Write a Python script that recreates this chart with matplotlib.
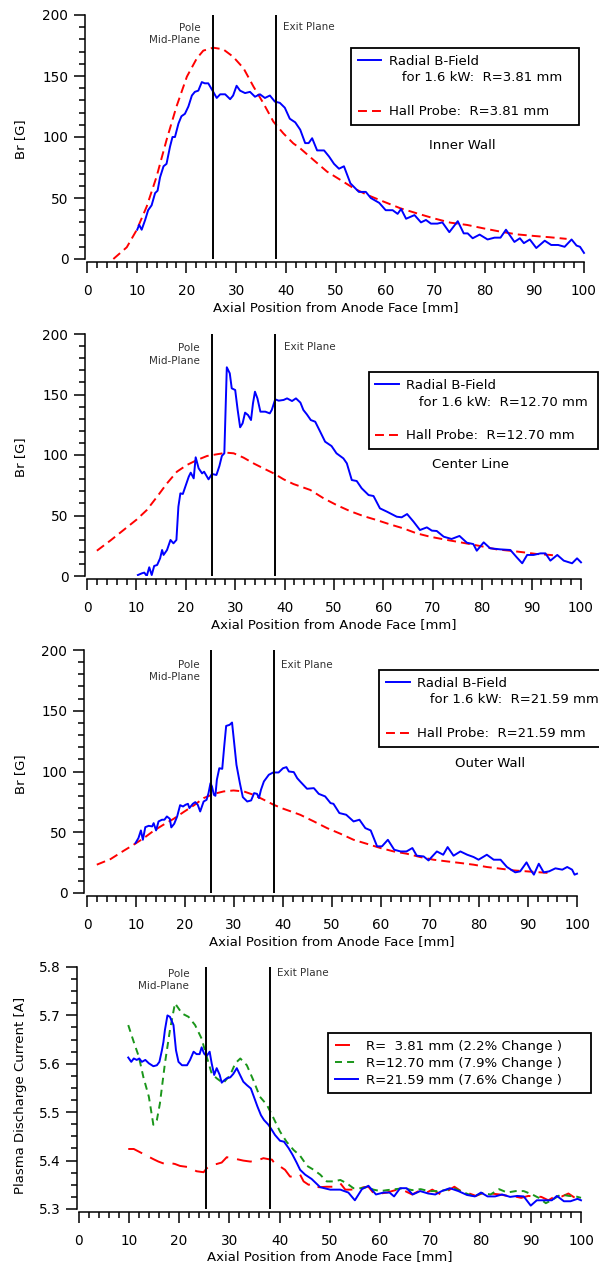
import matplotlib
matplotlib.use("Agg")
import matplotlib.pyplot as plt
from matplotlib.lines import Line2D
from matplotlib.ticker import MultipleLocator

plt.rcParams['font.family'] = ['DejaVu Sans']

# ---------------- data ----------------
pole_plane = 25.4
exit_plane = 38.1

p1_field_x = [10.1, 10.5, 11.0, 11.7, 12.3, 13.0, 13.7, 14.2, 14.7, 15.4, 16.0, 16.7, 17.2, 17.7, 18.4, 19.0,
              19.7, 20.4, 21.1, 21.7, 22.4, 23.1, 23.7, 24.4, 25.4, 26.1, 26.8, 27.8, 28.8, 29.4, 30.1, 30.8,
              31.8, 32.8, 33.8, 34.8, 35.8, 36.8, 37.8, 38.8, 39.8, 40.8, 41.9, 42.9, 43.9, 44.6, 45.3, 46.3,
              47.7, 48.7, 49.7, 50.7, 51.7, 53.0, 54.7, 56.1, 57.1, 58.8, 60.1, 61.5, 62.5, 63.2, 64.2, 65.9,
              67.2, 68.2, 69.2, 70.5, 71.5, 72.9, 74.6, 75.8, 76.6, 77.6, 79.0, 80.6, 82.0, 83.2, 84.3, 86.0,
              87.1, 87.9, 89.1, 90.4, 92.1, 93.4, 94.8, 96.1, 97.5, 98.5, 99.2, 100.0]
p1_field_y = [24, 28, 24, 32, 40, 44, 54, 56, 67, 76, 78, 92, 100, 100, 111, 117,
              119, 125, 134, 137, 138, 145, 144, 144, 137, 132, 135, 135, 131, 134, 142, 138,
              136, 137, 133, 135, 132, 134, 129, 128, 124, 115, 112, 106, 95, 95, 99, 89,
              89, 84, 78, 74, 76, 62, 55, 55, 50, 46, 40, 40, 37, 41, 33, 36,
              30, 32, 29, 29, 30, 22, 31, 21, 21, 17, 20, 16, 17.5, 17.5, 24, 14,
              17, 13, 16, 9, 15, 11.5, 11.5, 10, 16, 11, 10, 5]
p1_hall_x = [5.3, 8.0, 10.0, 12.0, 14.0, 16.0, 18.0, 20.1, 22.1, 23.4, 25.4, 27.4, 29.4, 31.5, 33.5, 35.5,
             37.5, 39.5, 41.5, 42.9, 45.6, 48.3, 51.0, 53.7, 56.4, 59.7, 63.1, 66.4, 69.8, 73.1, 76.5, 79.8,
             83.2, 86.5, 89.9, 93.2, 96.5]
p1_hall_y = [0, 9.6, 23.8, 42.9, 67.5, 97.5, 124.9, 149.5, 164.5, 170.8, 173.2, 171.9, 165.8, 156.3, 141.3, 127.6,
             112.6, 103, 94.8, 90.7, 81.1, 71.6, 64.8, 57.9, 52.5, 47, 41.5, 37.4, 33.3, 29.8, 27.9, 25.1,
             22.4, 20.2, 18.9, 17.8, 16.5]

p2_field_x = [10.3, 11.1, 11.6, 12.1, 12.6, 13.1, 13.6, 14.2, 14.8, 15.2,
              15.5, 16.2, 16.9, 17.5, 18.1, 18.5, 18.9, 19.4, 19.9, 20.6,
              21.0, 21.6, 22.0, 22.6, 23.3, 23.7, 24.6, 25.3, 26.2, 26.8,
              27.3, 27.8, 28.3, 28.9, 29.3, 30.0, 30.5, 31.0, 31.5, 32.0,
              32.6, 33.2, 33.6, 34.0, 34.5, 35.1, 36.1, 37.0, 37.4, 38.1,
              38.8, 39.8, 40.5, 41.5, 42.3, 43.2, 43.8, 44.5, 45.3, 46.2,
              47.2, 48.2, 49.5, 50.5, 51.9, 52.6, 53.6, 54.6, 55.6, 57.0,
              58.0, 59.3, 60.7, 62.7, 63.7, 64.8, 66.1, 67.4, 68.8, 69.8,
              70.8, 72.2, 73.8, 75.4, 76.9, 78.2, 78.9, 80.3, 81.6, 83.7,
              85.7, 87.0, 88.1, 89.1, 90.4, 91.8, 92.8, 93.8, 95.2, 96.5,
              98.2, 99.2, 100.0]
p2_field_y = [0.8, 2.2, 2.8, 0, 7.2, 0.8, 8.3, 9.1, 14.6, 21.5,
              17.4, 21.5, 29.8, 27, 29.8, 57.3, 68.3, 67.8, 73.8, 82.1,
              85.4, 80.7, 98.1, 89, 84.8, 86.2, 79.9, 84.3, 83.5, 90.9,
              99.2, 101.4, 172.5, 167.5, 155.1, 153.7, 137.2, 122.9, 126.2, 135,
              133, 128.9, 142.7, 152.3, 146.8, 135.8, 135.8, 134.4, 137.2, 146,
              144.9, 145.5, 146.8, 144.6, 146.8, 143.3, 137.2, 133.6, 128.9, 127.5,
              119.3, 111, 107.4, 101.4, 97.2, 93.1, 79.3, 78.5, 72.5, 66.9,
              66.1, 55.9, 53.2, 49, 48.5, 51.2, 44.9, 38, 40.2, 37.5,
              37.2, 32.5, 30.6, 33.1, 27.5, 26.4, 20.9, 27.8, 22.9, 22,
              21.5, 15.4, 10.5, 17.4, 17.4, 18.7, 18.7, 12.7, 17.4, 12.7,
              10.5, 14.6, 11.3]
p2_hall_x = [2.0, 4.7, 7.4, 10.1, 12.1, 14.2, 16.2, 18.2, 20.2, 22.3, 24.3, 26.3, 28.3, 29.7, 31.7, 33.7,
             35.7, 37.8, 39.8, 41.8, 43.2, 45.2, 47.9, 50.5, 53.2, 55.9, 58.6, 61.3, 64.0, 66.7, 69.4, 72.2,
             74.8, 77.5, 80.3, 82.9, 85.6, 88.3, 91.0, 93.8, 95.5]
p2_hall_y = [20.9, 29.2, 38, 46.8, 54.5, 65.6, 76.6, 86.2, 91.7, 95.9, 99.2, 100.6, 101.9, 101.4, 97.8, 93.1,
             89, 84.8, 79.9, 76, 74, 71.1, 64.2, 58.7, 53.7, 49.6, 46.3, 42.7, 39.4, 35.3, 32.5, 30.3,
             28.4, 26.4, 24.2, 22, 20.9, 19.6, 18.2, 17.4, 16.5]

p3_field_x = [9.9, 10.5, 11.0, 11.4, 11.9, 12.6, 13.3, 13.6, 14.1, 14.6,
              15.3, 15.8, 16.3, 16.9, 17.2, 17.8, 18.4, 19.0, 19.6, 20.1,
              20.6, 20.9, 21.6, 22.1, 22.6, 23.1, 23.8, 24.4, 24.8, 25.2,
              25.5, 25.9, 26.2, 26.5, 27.0, 27.6, 28.0, 28.4, 29.1, 29.6,
              29.9, 30.5, 31.2, 31.8, 32.7, 33.5, 34.1, 34.7, 35.1, 35.5,
              36.1, 37.1, 38.0, 39.1, 40.0, 40.7, 41.2, 42.2, 42.9, 43.5,
              44.9, 46.3, 47.3, 48.6, 49.7, 50.3, 51.5, 52.9, 54.4, 55.6,
              56.8, 57.9, 59.2, 60.2, 61.4, 62.7, 64.0, 65.2, 66.4, 67.3,
              68.7, 69.7, 71.4, 72.7, 73.6, 74.8, 76.2, 77.6, 78.9, 79.9,
              81.6, 83.0, 84.4, 85.7, 87.4, 88.4, 89.7, 90.5, 91.2, 92.2,
              93.2, 94.3, 95.6, 97.0, 98.0, 99.0, 99.5, 100.0]
p3_field_y = [41.1, 45.2, 51.5, 43.8, 54.2, 55.3, 54.8, 57.5, 51.5, 58.9,
              60.3, 60.3, 63, 61.1, 54, 57, 63, 72.3, 71.2, 72.6,
              73.4, 69.9, 73.4, 74.8, 72.6, 67.1, 75.3, 76.7, 82.2, 90.4,
              87.7, 80.8, 80, 93.2, 102.7, 102.2, 120.5, 137.5, 138.4, 140.3,
              128.8, 105.5, 90.4, 78.9, 75.3, 76.2, 82.2, 81.6, 78.1, 84.9,
              91.8, 97.3, 99.2, 99.2, 102.7, 103.6, 100, 99.5, 94.5, 91.8,
              85.8, 86.3, 81.6, 79.5, 74, 73.4, 65.8, 64.4, 58.9, 60.3,
              53.4, 51.5, 38.4, 38.4, 43.8, 35.6, 34.2, 34.2, 37, 30.7,
              30.1, 26.8, 34.2, 31.5, 37.8, 30.7, 34.2, 31.5, 29.6, 27.4,
              31.5, 27.4, 27.4, 21.4, 17, 17.8, 25.2, 19.2, 15.1, 24.1,
              17, 17.8, 20.3, 19.2, 21.4, 19.2, 15.1, 15.9]
p3_hall_x = [2.0, 4.8, 7.5, 9.5, 11.6, 13.6, 15.6, 17.7, 19.7, 21.8, 23.8, 25.9, 27.9, 29.9, 32.0, 34.0,
             36.1, 38.1, 40.1, 42.2, 43.5, 46.3, 49.0, 51.7, 54.4, 57.1, 59.9, 62.6, 65.3, 68.0, 70.7, 73.5,
             76.2, 78.9, 81.6, 84.4, 87.1, 89.8, 92.5, 94.5]
p3_hall_y = [23.3, 27.9, 34.8, 39.7, 45.2, 51.2, 56.2, 61.1, 66.6, 72.1, 78.1, 81.6, 83.6, 84.4, 83.6, 80.8,
             76.7, 72.6, 69.3, 66.3, 64.4, 58.9, 53.4, 48.8, 43.8, 40.5, 37, 34.2, 32.3, 29.6, 27.4, 26,
             24.7, 23.3, 21.4, 20, 18.6, 17.8, 17, 16.4]

p4_r381_x = [9.9, 11.0, 12.3, 13.6, 14.9, 15.9, 17.2, 18.2, 19.2, 20.2,
             21.6, 22.5, 23.5, 24.9, 25.5, 26.5, 27.5, 28.5, 29.5, 30.5,
             31.5, 32.8, 34.2, 35.5, 36.8, 37.8, 38.5, 39.1, 40.1, 41.1,
             42.1, 43.4, 44.1, 44.8, 45.8, 46.8, 47.8, 49.4, 50.8, 52.1,
             53.1, 54.1, 55.4, 56.8, 57.7, 58.7, 60.1, 61.4, 63.4, 65.0,
             66.4, 67.7, 69.1, 70.4, 72.1, 73.4, 74.8, 76.1, 77.5, 79.1,
             80.5, 82.1, 83.8, 85.5, 86.8, 88.1, 89.5, 90.8, 92.1, 93.5,
             94.8, 96.2, 97.5, 98.8, 100.0]
p4_r381_y = [5.424, 5.424, 5.417, 5.410, 5.403, 5.398, 5.393, 5.395, 5.393, 5.389,
             5.387, 5.383, 5.378, 5.376, 5.384, 5.391, 5.393, 5.396, 5.407, 5.405,
             5.403, 5.400, 5.398, 5.400, 5.405, 5.403, 5.402, 5.393, 5.388, 5.381,
             5.367, 5.367, 5.371, 5.357, 5.350, 5.353, 5.345, 5.346, 5.346, 5.353,
             5.340, 5.340, 5.341, 5.345, 5.346, 5.333, 5.332, 5.334, 5.340, 5.337,
             5.330, 5.337, 5.333, 5.340, 5.330, 5.337, 5.346, 5.337, 5.333, 5.327,
             5.333, 5.332, 5.330, 5.327, 5.326, 5.323, 5.327, 5.326, 5.325, 5.318,
             5.326, 5.326, 5.332, 5.323, 5.330]
p4_r1270_x = [9.9, 11.0, 12.0, 12.9, 14.0, 14.9, 15.6, 16.2, 17.2, 18.2,
              19.2, 20.6, 21.9, 23.2, 24.5, 25.5, 26.5, 27.5, 28.8, 30.2,
              31.2, 32.2, 33.5, 34.8, 36.1, 37.5, 38.8, 40.1, 41.4, 42.8,
              44.1, 45.5, 46.8, 48.1, 49.4, 50.8, 52.1, 53.4, 54.7, 56.1,
              57.4, 58.7, 60.1, 61.4, 63.1, 64.7, 66.4, 68.1, 69.7, 71.4,
              73.0, 74.7, 76.7, 78.7, 80.3, 82.0, 83.7, 85.3, 87.0, 88.6,
              90.3, 91.6, 93.0, 94.3, 96.0, 97.6, 99.0, 100.0]
p4_r1270_y = [5.680, 5.645, 5.615, 5.573, 5.532, 5.474, 5.484, 5.518, 5.601, 5.670,
              5.725, 5.704, 5.697, 5.680, 5.652, 5.615, 5.580, 5.570, 5.560, 5.577,
              5.601, 5.611, 5.597, 5.566, 5.532, 5.515, 5.488, 5.460, 5.439, 5.422,
              5.410, 5.389, 5.381, 5.371, 5.357, 5.357, 5.360, 5.353, 5.343, 5.343,
              5.345, 5.340, 5.337, 5.339, 5.341, 5.343, 5.339, 5.341, 5.337, 5.337,
              5.339, 5.343, 5.334, 5.326, 5.333, 5.330, 5.341, 5.334, 5.337, 5.337,
              5.330, 5.323, 5.312, 5.319, 5.330, 5.327, 5.326, 5.323]
p4_r2159_x = [9.9, 10.5, 11.0, 11.6, 12.1, 12.6, 13.3, 14.0, 14.9, 15.6,
              16.1, 16.6, 16.9, 17.2, 17.7, 18.2, 18.9, 19.4, 19.9, 20.6,
              21.6, 22.2, 22.9, 23.5, 24.1, 24.5, 25.0, 25.5, 26.1, 26.5,
              27.0, 27.5, 28.1, 28.5, 29.0, 29.5, 30.2, 30.8, 31.5, 32.0,
              32.8, 33.5, 34.3, 34.9, 35.6, 36.3, 36.9, 37.8, 38.5, 39.1,
              40.1, 40.9, 41.8, 42.6, 43.4, 44.1, 45.1, 46.4, 48.1, 50.1,
              52.1, 53.7, 55.0, 56.4, 57.7, 59.2, 60.7, 61.9, 62.8, 64.0,
              65.3, 66.5, 68.0, 69.6, 71.0, 72.3, 73.9, 75.6, 77.3, 78.9,
              80.1, 81.4, 82.9, 84.3, 85.9, 87.3, 88.6, 90.0, 91.2, 92.9,
              94.2, 95.2, 96.6, 97.9, 99.3, 100.0]
p4_r2159_y = [5.613, 5.604, 5.611, 5.608, 5.611, 5.604, 5.608, 5.601, 5.595, 5.597,
              5.604, 5.628, 5.645, 5.670, 5.700, 5.697, 5.680, 5.628, 5.604, 5.597,
              5.597, 5.608, 5.625, 5.620, 5.620, 5.634, 5.621, 5.616, 5.625, 5.601,
              5.577, 5.591, 5.577, 5.561, 5.566, 5.570, 5.572, 5.579, 5.591, 5.580,
              5.563, 5.556, 5.549, 5.532, 5.512, 5.494, 5.484, 5.474, 5.463, 5.453,
              5.441, 5.439, 5.426, 5.412, 5.396, 5.381, 5.371, 5.362, 5.345, 5.340,
              5.340, 5.334, 5.318, 5.341, 5.348, 5.330, 5.334, 5.334, 5.326, 5.343,
              5.343, 5.330, 5.337, 5.332, 5.330, 5.337, 5.343, 5.337, 5.329, 5.326,
              5.334, 5.326, 5.326, 5.330, 5.325, 5.327, 5.326, 5.307, 5.318, 5.318,
              5.318, 5.327, 5.316, 5.316, 5.321, 5.318]

radii = ["3.81", "12.70", "21.59"]
wall_names = ["Inner Wall", "Center Line", "Outer Wall"]
p4_labels = ["R=  3.81 mm (2.2% Change )", "R=12.70 mm (7.9% Change )", "R=21.59 mm (7.6% Change )"]

# ---------------- style / layout ----------------
W, H = 599, 1264
BLUE = '#0000ff'
RED = '#ff0000'
GREEN = '#1a961a'
FS = 9.5
LW = 1.4

fig = plt.figure(figsize=(W / 100, H / 100), dpi=100)


def make_axes(spine_px, x0_px, x100_px, top_px, bottom_px):
    s = (x100_px - x0_px) / 100.0
    xl = (spine_px - x0_px) / s
    xr = 100.4
    right_px = x100_px + 0.4 * s
    ax = fig.add_axes([spine_px / W, 1 - bottom_px / H, (right_px - spine_px) / W, (bottom_px - top_px) / H])
    ax.set_xlim(xl, xr)
    for side in ('top', 'right'):
        ax.spines[side].set_visible(False)
    ax.spines['bottom'].set_position(('outward', 2.2))
    ax.spines['bottom'].set_bounds(0, 100)
    ax.spines['left'].set_linewidth(1.1)
    ax.spines['bottom'].set_linewidth(1.1)
    ax.xaxis.set_major_locator(MultipleLocator(10))
    ax.xaxis.set_minor_locator(MultipleLocator(2))
    ax.tick_params(axis='both', which='major', direction='out', length=8, width=1.1, labelsize=9.8)
    ax.tick_params(axis='both', which='minor', direction='out', length=4.2, width=1.1)
    ax.tick_params(axis='x', which='major', pad=7.5)
    ax.tick_params(axis='y', which='major', pad=4)
    ax.set_xlabel("Axial Position from Anode Face [mm]", fontsize=FS, labelpad=2.5)
    ax.patch.set_alpha(0)
    return ax


def plane_lines(ax, pole_off, exit_off):
    ax.axvline(pole_plane, color='black', lw=LW)
    ax.axvline(exit_plane, color='black', lw=LW)
    ax.annotate("Pole\nMid-Plane", xy=(pole_plane, 1.0), xycoords=('data', 'axes fraction'),
                xytext=pole_off, textcoords='offset points', ha='right', va='center',
                multialignment='right', fontsize=7.5, color='#333333', linespacing=1.35)
    ax.annotate("Exit Plane", xy=(exit_plane, 1.0), xycoords=('data', 'axes fraction'),
                xytext=exit_off, textcoords='offset points', ha='left', va='center',
                fontsize=7.5, color='#333333')


def boxed_legend(ax, handles, labels, box):
    leg = ax.legend(handles, labels, loc='upper left', bbox_to_anchor=box, mode='expand',
                    borderaxespad=0, fontsize=FS, handlelength=1.8, handletextpad=0.55,
                    borderpad=0.5, labelspacing=0.3, fancybox=False, framealpha=1,
                    edgecolor='black')
    leg.get_frame().set_linewidth(1.3)
    leg.set_clip_on(False)
    return leg


field_x = [p1_field_x, p2_field_x, p3_field_x]
field_y = [p1_field_y, p2_field_y, p3_field_y]
hall_x = [p1_hall_x, p2_hall_x, p3_hall_x]
hall_y = [p1_hall_y, p2_hall_y, p3_hall_y]

panel_geom = [(85, 87, 584, 15, 259), (85, 87, 581, 334, 576), (84, 87, 577, 650, 893)]
pole_offs = [(-9.4, -13.7), (-9.2, -14.8), (-8.6, -15.1)]
exit_offs = [(5, -8.6), (6.5, -9.4), (5, -10.8)]
leg_boxes = [(0.531, 0.865, 0.455, 0.0), (0.570, 0.843, 0.46, 0.0), (0.597, 0.918, 0.47, 0.0)]
wall_pos = [(0.754, 0.467), (0.775, 0.459), (0.82, 0.531)]

for i in range(3):
    ax = make_axes(*panel_geom[i])
    ax.set_ylim(0, 200)
    ax.yaxis.set_major_locator(MultipleLocator(50))
    ax.yaxis.set_minor_locator(MultipleLocator(10))
    ax.plot(hall_x[i], hall_y[i], color=RED, lw=LW, dashes=(4.6, 2.6), clip_on=False)
    ax.plot(field_x[i], field_y[i], color=BLUE, lw=LW)
    plane_lines(ax, pole_offs[i], exit_offs[i])
    ax.set_ylabel("Br [G]", fontsize=FS)
    ax.yaxis.set_label_coords(-0.116, 0.49)
    handles = [Line2D([], [], color=BLUE, lw=LW),
               Line2D([], [], color='none'),
               Line2D([], [], color='none'),
               Line2D([], [], color=RED, lw=LW, dashes=(4.6, 2.6))]
    labels = ["Radial B-Field",
              "   for 1.6 kW:  R=%s mm" % radii[i],
              " ",
              "Hall Probe:  R=%s mm" % radii[i]]
    boxed_legend(ax, handles, labels, leg_boxes[i])
    ax.text(wall_pos[i][0], wall_pos[i][1], wall_names[i], transform=ax.transAxes,
            ha='center', va='center', fontsize=FS)

# ---------------- panel 4 ----------------
ax4 = make_axes(77, 78.5, 581, 967, 1209)
ax4.set_ylim(5.3, 5.8)
ax4.yaxis.set_major_locator(MultipleLocator(0.1))
ax4.yaxis.set_minor_locator(MultipleLocator(0.025))
l1, = ax4.plot(p4_r381_x, p4_r381_y, color=RED, lw=LW, dashes=(7.7, 4.6))
l2, = ax4.plot(p4_r1270_x, p4_r1270_y, color=GREEN, lw=LW, dashes=(3.6, 2.6))
l3, = ax4.plot(p4_r2159_x, p4_r2159_y, color=BLUE, lw=LW)
plane_lines(ax4, (-12.2, -9.4), (5, -4.3))
ax4.set_ylabel("Plasma Discharge Current [A]", fontsize=FS)
ax4.yaxis.set_label_coords(-0.099, 0.471)
ax4.xaxis.labelpad = 1.5
leg4 = boxed_legend(ax4, [l1, l2, l3], p4_labels, (0.496, 0.727, 0.52, 0.0))

fig.savefig("out.png", dpi=100)
